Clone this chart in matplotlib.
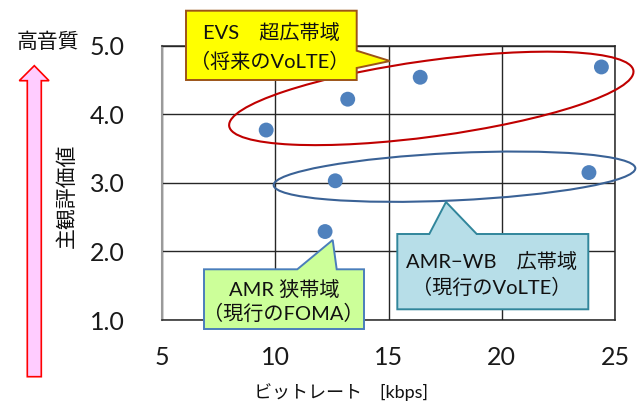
import matplotlib
matplotlib.use("Agg")
import matplotlib.pyplot as plt
from matplotlib.patches import Ellipse, Polygon
from matplotlib.transforms import Affine2D

plt.rcParams["font.family"] = ["Lato", "Noto Sans CJK JP"]

# Bit rate [kbps] and subjective score (MOS) for each codec
evs_rate = [9.6, 13.2, 16.4, 24.4]
evs_mos = [3.77, 4.22, 4.54, 4.69]
amrwb_rate = [12.65, 23.85]
amrwb_mos = [3.03, 3.15]
amr_rate = [12.2]
amr_mos = [2.29]

x_ticks = [5, 10, 15, 20, 25]
y_ticks = [1.0, 2.0, 3.0, 4.0, 5.0]
y_tick_labels = ["1.0", "2.0", "3.0", "4.0", "5.0"]

W, H, DPI = 642, 401, 100
fig = plt.figure(figsize=(W / DPI, H / DPI), dpi=DPI)
fig.patch.set_facecolor("white")

# pixel coordinates measured from the top-left corner of the canvas
pix = Affine2D().scale(1, -1).translate(0, H)


def fx(x, y):
    return x / W, 1 - y / H


L, R, T, B = 162, 615, 45.7, 320
ax = fig.add_axes([L / W, 1 - B / H, (R - L) / W, (B - T) / H])
ax.set_xlim(5, 25)
ax.set_ylim(1, 5)
ax.set_xticks(x_ticks)
ax.set_xticklabels([str(v) for v in x_ticks])
ax.set_yticks(y_ticks)
ax.set_yticklabels(y_tick_labels)
ax.tick_params(length=0, labelsize=18, labelcolor="#1a1a1a")
ax.tick_params(axis="x", pad=19)
ax.tick_params(axis="y", pad=27)
ax.grid(True, color="#262626", lw=1.0)
ax.set_axisbelow(True)
for s in ["top", "right", "bottom"]:
    ax.spines[s].set_color("#262626")
    ax.spines[s].set_linewidth(1.1)
ax.spines["left"].set_color("#9a9a9a")
ax.spines["left"].set_linewidth(1.5)

ax.scatter(evs_rate + amrwb_rate + amr_rate,
           evs_mos + amrwb_mos + amr_mos,
           s=115, color="#4F81BD", edgecolors="none", zorder=5, clip_on=False)

# group outlines (pixel space so the tilt is not distorted by the axis scales)
for (cx, cy), a, b, ang, col in [((431.3, 98.4), 204, 38, -7.8, "#C00000"),
                                   ((454.5, 176.7), 181, 23.7, -2.7, "#3A6296")]:
    ax.add_patch(Ellipse((cx, cy), 2 * a, 2 * b, angle=ang, transform=pix,
                         fill=False, edgecolor=col, lw=1.5, zorder=4,
                         clip_on=False))


def callout(points, face, edge, lines, centers, size=14.5):
    fig.add_artist(Polygon(points, closed=True, transform=pix, facecolor=face,
                           edgecolor=edge, lw=1.4, zorder=10))
    for txt, (tx, ty) in zip(lines, centers):
        fig.text(*fx(tx, ty), txt, ha="center", va="center", fontsize=size,
                 color="#111111", zorder=11)


callout([(186, 10.7), (356.7, 10.7), (356.7, 50.7), (390, 61), (356.7, 68),
         (356.7, 80), (186, 80)],
        "#FFFF00", "#9C5418",
        ["EVS　超広帯域", "（将来のVoLTE）"], [(271, 33), (270, 61)])

callout([(397.3, 234), (429.3, 234), (446, 202), (476.7, 234), (588.3, 234),
         (588.3, 309.3), (397.3, 309.3)],
        "#B7DEE8", "#31869B",
        ["AMR−WB　広帯域", "（現行のVoLTE）"], [(492, 261.7), (492, 287.3)])

callout([(204, 269.3), (297.3, 269.3), (332.7, 240), (336.7, 269.3),
         (364, 269.3), (364, 329), (204, 329)],
        "#CCFF99", "#4A7EBB",
        ["AMR 狭帯域", "（現行のFOMA）"], [(284, 289.3), (283, 313.3)])

# quality arrow on the left
fig.add_artist(Polygon([(34.3, 65.7), (49, 80.7), (41.3, 80.7), (41.3, 376.7),
                        (27.3, 376.7), (27.3, 80.7), (19.3, 80.7)],
                       closed=True, transform=pix, facecolor="#FFCCFF",
                       edgecolor="#FF0000", lw=1.2, zorder=10))

fig.text(*fx(48, 41.7), "高音質", ha="center", va="center", fontsize=15,
         color="#111111")
fig.text(*fx(66.7, 196), "主観評価値", ha="center", va="center", fontsize=15,
         rotation=90, color="#111111")
fig.text(*fx(341, 392), "ビットレート　[kbps]", ha="center", va="center",
         fontsize=13, color="#111111")

fig.savefig("out.png", dpi=DPI)
